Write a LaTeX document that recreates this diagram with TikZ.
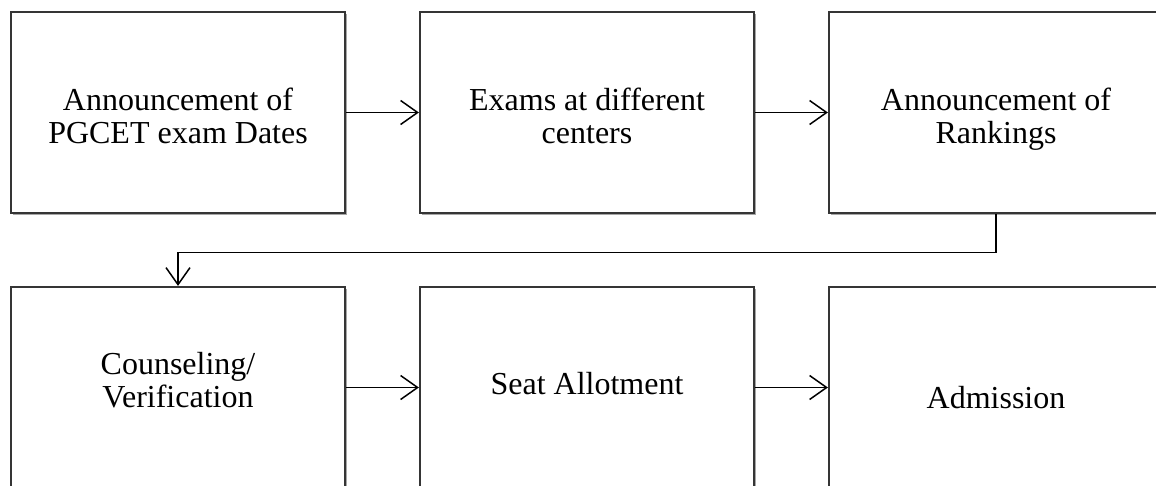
\documentclass[tikz,border=0pt]{standalone}
\usepackage{fontspec}
\setmainfont{Liberation Serif}
\usetikzlibrary{arrows.meta,shadows}
\definecolor{boxedge}{HTML}{353535}
\begin{document}
\begin{tikzpicture}[x=1pt,y=-1pt,
  stepbox/.style={draw=boxedge, line width=2.2pt, minimum width=334pt,
    minimum height=201pt, inner sep=0pt, fill=white,
    drop shadow={shadow xshift=1.5pt, shadow yshift=-1.5pt, opacity=0.35, fill=black}},
  steptext/.style={align=center, inner sep=0pt,
    font=\fontsize{32}{33}\selectfont,
    execute at begin node=\strut, execute at end node=\strut},
  flow/.style={line width=1.5pt, draw=black,
    -{Straight Barb[length=17pt,width=24pt,line width=1.5pt]}}]
  \clip (0,0) rectangle (1156,485);
  \fill[white] (0,0) rectangle (1156,485);
  % first row
  \node[stepbox] (dates)    at (178,112.5) {};
  \node[stepbox] (exams)    at (587,112.5) {};
  \node[stepbox] (rankings) at (996,112.5) {};
  % second row
  \node[stepbox] (counsel)  at (178,387.5) {};
  \node[stepbox] (seat)     at (587,387.5) {};
  \node[stepbox] (admit)    at (996,387.5) {};
  % labels
  \node[steptext] (dates-t)    at ([yshift=-8pt]dates.center)    {Announcement of\\PGCET exam Dates};
  \node[steptext] (exams-t)    at ([yshift=-8pt]exams.center)    {Exams at different\\centers};
  \node[steptext] (rankings-t) at ([yshift=-8pt]rankings.center) {Announcement of\\Rankings};
  \node[steptext] (counsel-t)  at ([yshift=3pt]counsel.center)   {Counseling/\\Verification};
  \node[steptext] (seat-t)     at ([yshift=0pt]seat.center)      {Seat Allotment};
  \node[steptext] (admit-t)    at ([yshift=-14pt]admit.center)   {Admission};
  % connectors
  \draw[flow] (dates.east) -- (exams.west);
  \draw[flow] (exams.east) -- (rankings.west);
  \draw[flow] (rankings.south) -- ++(0,38.5) -| (counsel.north);
  \draw[flow] (counsel.east) -- (seat.west);
  \draw[flow] (seat.east) -- (admit.west);
\end{tikzpicture}
\end{document}
